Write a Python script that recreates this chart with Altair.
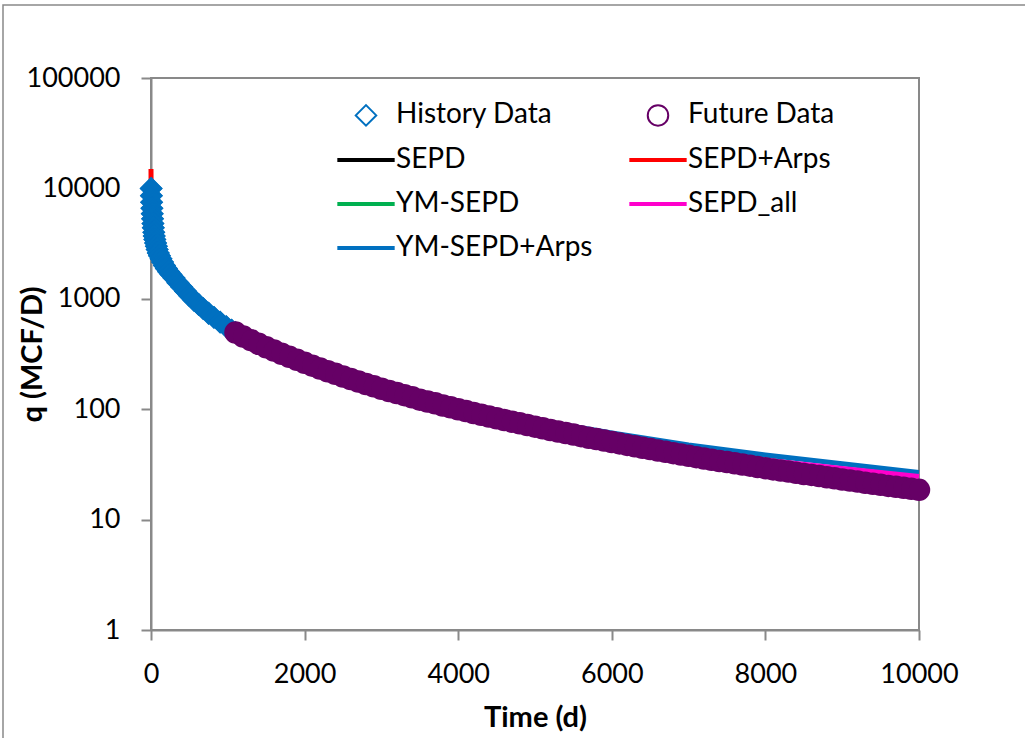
import altair as alt
import pandas as pd

# ---------------- data ----------------
hist_t = [2, 5, 8, 12, 16, 20, 25, 30, 36, 42, 50, 60, 70, 80, 95, 110, 130, 150, 175, 200,
          230, 260, 300, 350, 400, 450, 500, 560, 620, 680, 750, 820, 900, 980, 1050, 1100]
hist_q = [10000, 8600, 7500, 6600, 5900, 5300, 4800, 4400, 4000, 3700, 3450, 3200, 3000, 2800, 2600,
          2450, 2300, 2150, 2000, 1880, 1760, 1660, 1540, 1400, 1280, 1170, 1070, 970, 890, 815,
          740, 680, 615, 560, 520, 495]

fut_t = list(range(1100, 10001, 100))
fut_q = [495, 456, 422, 391, 364, 340, 318, 298, 280, 263,
         248, 234, 221, 209, 198, 187.5, 178, 169, 161, 153,
         146, 140, 134, 128, 122, 117.5, 113, 108, 104, 100,
         96.2, 92.5, 89.1, 85.9, 82.8, 79.8, 77.1, 74.5, 71.9, 69.5,
         67.1, 64.9, 62.8, 60.8, 58.9, 57.0, 55.2, 53.6, 52.0, 50.5,
         49.0, 47.5, 46.1, 44.8, 43.5, 42.3, 41.1, 40.0, 38.9, 37.8,
         36.8, 35.8, 34.9, 34.0, 33.2, 32.4, 31.6, 30.8, 30.0, 29.2,
         28.5, 27.8, 27.2, 26.5, 25.9, 25.4, 24.8, 24.2, 23.7, 23.1,
         22.6, 22.1, 21.6, 21.1, 20.7, 20.2, 19.8, 19.4, 19.0, 18.6]

line_t = [1, 10, 20, 40, 70, 100, 150, 200, 300, 400, 500, 700, 1000, 1500, 2000, 2500, 3000,
          4000, 5000, 6000, 7000, 8000, 9000, 10000]
sepd_q = [9800, 6900, 5300, 3850, 3000, 2560, 2140, 1870, 1530, 1270, 1070, 800, 555, 366, 264,
          199, 154, 100.5, 70, 51, 38.5, 30, 23.8, 19.4]
ym_sepd_q = [9900, 7000, 5250, 3800, 3000, 2550, 2150, 1880, 1540, 1280, 1070, 795, 552, 365, 264,
             199, 154, 101, 70.5, 51.5, 38.8, 30.2, 24, 19.6]
sepd_all_q = [10000, 7000, 5300, 3800, 3000, 2550, 2150, 1880, 1540, 1280, 1070, 795, 550, 366, 267,
              202, 157, 105, 75, 56, 43, 34.5, 29, 24.6]
ym_arps_q = [10000, 7000, 5300, 3800, 3000, 2550, 2150, 1880, 1540, 1280, 1070, 795, 553, 369, 270,
             206, 161, 109, 80, 61, 47.5, 38.5, 32, 26.7]
arps_t = [0, 1, 10, 20, 40, 70, 100, 150, 200, 300, 400, 500, 700, 1000, 1500, 2000, 2500, 3000,
          4000, 5000, 6000, 7000, 8000, 9000, 10000]
sepd_arps_q = [15000, 10500, 7100, 5350, 3850, 3000, 2550, 2150, 1880, 1540, 1280, 1070, 795, 550,
               364, 263, 198, 153, 100, 69.5, 50.5, 37.8, 29.2, 23.1, 18.9]

series_names = ["History Data", "Future Data", "SEPD", "SEPD+Arps", "YM-SEPD", "SEPD_all", "YM-SEPD+Arps"]
series_colors = ["#0070C0", "#660066", "#000000", "#FF0000", "#00B050", "#FF00CC", "#0070C0"]
LINE_SYMBOL = "M-2.7,-0.1L2.7,-0.1L2.7,0.1L-2.7,0.1Z"
series_shapes = ["diamond", "circle", LINE_SYMBOL, LINE_SYMBOL, LINE_SYMBOL, LINE_SYMBOL, LINE_SYMBOL]

x_ticks = [0, 2000, 4000, 6000, 8000, 10000]
y_ticks = [1, 10, 100, 1000, 10000, 100000]

FONT = "Lato"
GRAY = "#898989"

# ---------------- frames ----------------
hist_df = pd.DataFrame({"t": hist_t, "q": hist_q, "series": "History Data"})
fut_df = pd.DataFrame({"t": fut_t, "q": fut_q, "series": "Future Data"})
pts_df = pd.concat([hist_df, fut_df], ignore_index=True)

x_enc = alt.X("t:Q", scale=alt.Scale(domain=[0, 10000], nice=False),
              axis=alt.Axis(values=x_ticks, format="d", title="Time (d)", titleY=87,
                            titleBaseline="middle", labelFlush=False))
y_enc = alt.Y("q:Q", scale=alt.Scale(type="log", domain=[1, 100000], nice=False),
              axis=alt.Axis(values=y_ticks, format="d", title="q (MCF/D)", titleX=-119,
                            titleBaseline="middle", labelFlush=False))

def line_layer(ts, qs, color):
    df = pd.DataFrame({"t": ts, "q": qs})
    return alt.Chart(df).mark_line(color=color, strokeWidth=5).encode(x=x_enc, y=y_enc)

lines = [
    line_layer(line_t, sepd_q, "#000000"),
    line_layer(line_t, ym_sepd_q, "#00B050"),
    line_layer(arps_t, sepd_arps_q, "#FF0000"),
    line_layer(line_t, ym_arps_q, "#0070C0"),
    line_layer(line_t, sepd_all_q, "#FF00CC"),
]

hist_fill = alt.Chart(hist_df).mark_point(shape="diamond", filled=True, size=520, color="#0070C0",
                                          opacity=1).encode(x=x_enc, y=y_enc)
fut_fill = alt.Chart(fut_df).mark_point(shape="circle", filled=True, size=420, color="#660066",
                                        opacity=1).encode(x=x_enc, y=y_enc)

leg = alt.Legend(title=None, orient="none", direction="horizontal", legendX=201, legendY=23,
                 columns=2, columnPadding=33, rowPadding=16, symbolSize=420,
                 symbolStrokeWidth=2, labelFont=FONT, labelFontSize=28, labelColor="black",
                 labelLimit=400, labelOffset=16, padding=0, symbolOpacity=1,
                 symbolFillColor="transparent")

legend_pts = alt.Chart(pts_df).mark_point(filled=False, size=420, opacity=1, strokeWidth=2).encode(
    x=x_enc, y=y_enc,
    color=alt.Color("series:N", scale=alt.Scale(domain=series_names, range=series_colors), legend=leg),
    shape=alt.Shape("series:N", scale=alt.Scale(domain=series_names, range=series_shapes), legend=leg),
)

border = alt.Chart(pd.DataFrame({"k": [0]})).mark_rect(fill="transparent", stroke=GRAY,
                                                       strokeWidth=1.5).encode(
    x=alt.value(-148), x2=alt.value(890), y=alt.value(-73), y2=alt.value(680))

chart = alt.layer(*lines, hist_fill, legend_pts, fut_fill, border).properties(
    width=768, height=552,
    padding={"left": 151, "top": 78, "right": 106, "bottom": 108},
    autosize=alt.AutoSizeParams(type="none"),
    background="white",
).configure_view(stroke=GRAY, strokeWidth=2).configure_axis(
    grid=False, domainColor=GRAY, domainWidth=2, tickColor=GRAY, tickWidth=2, tickSize=10,
    labelFont=FONT, labelFontSize=27, labelColor="black", labelPadding=21,
    titleFont=FONT, titleFontSize=29, titleFontWeight="bold", titleColor="black",
)

chart.save("out.html", embed_options={"renderer": "svg", "actions": False})
